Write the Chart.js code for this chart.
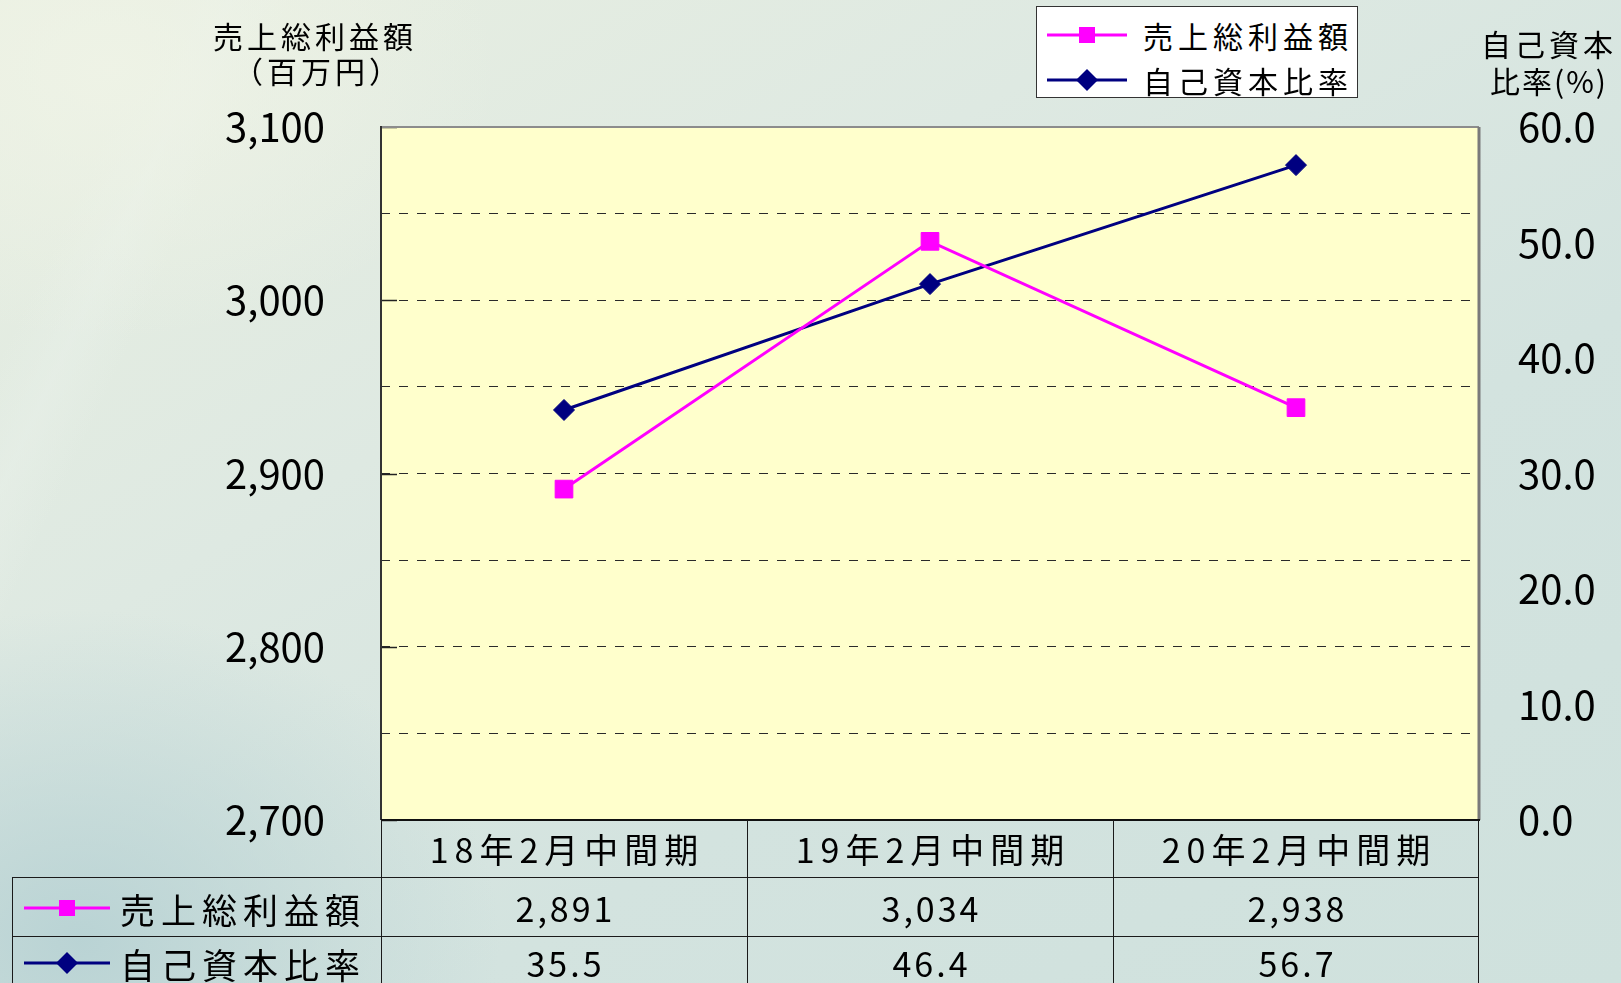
<!DOCTYPE html>
<html lang="ja">
<head>
<meta charset="utf-8">
<title>売上総利益額・自己資本比率</title>
<script src="https://cdn.jsdelivr.net/npm/chart.js@4.4.1/dist/chart.umd.min.js"></script>
<style>
  html, body { margin: 0; padding: 0; }
  body {
    width: 1621px; height: 983px; overflow: hidden; position: relative;
    font-family: "Noto Sans CJK JP", "Noto Sans", sans-serif; color: #000;
    background:
      radial-gradient(ellipse 520px 360px at 110px 70px, rgba(240,244,231,0.8), rgba(240,244,231,0) 75%),
      radial-gradient(ellipse 560px 440px at 80px 940px, rgba(182,209,211,0.9), rgba(182,209,211,0) 75%),
      linear-gradient(115deg, rgba(255,255,255,0) 8%, rgba(232,240,233,0.5) 11%, rgba(255,255,255,0) 14%),
      linear-gradient(150deg, #e9efe1 0%, #dee9e2 35%, #d3e3df 65%, #cfe1dd 100%);
  }
  #chart { position: absolute; left: 0; top: 0; }
  .txt { position: absolute; white-space: nowrap; line-height: 1; transform: translate(-50%, -50%); }
  .hl { position: absolute; height: 1px; background: #1a1a1a; }
  .vl { position: absolute; width: 1px; background: #1a1a1a; }
  #legend {
    position: absolute; left: 1036px; top: 6px; width: 320px; height: 90px;
    background: #fff; border: 1.5px solid #333;
  }
  .key { position: absolute; }
</style>
</head>
<body>
<canvas id="chart" width="1621" height="983"></canvas>
<div id="overlay"></div>
<div id="legend"></div>

<script>
// Data
const categories = ['18年2月中間期', '19年2月中間期', '20年2月中間期'];
const seriesNames = ['売上総利益額', '自己資本比率'];
const grossProfit = [2891, 3034, 2938];      // 百万円
const equityRatio = [35.5, 46.4, 56.7];      // %
const seriesColors = ['#ff00ff', '#000080'];
const seriesMarkers = ['rect', 'rectRot'];

// Axis ranges
const leftRange = [2700, 3100];
const leftGridStep = 50;
const leftLabelStep = 100;
const rightRange = [0, 60];
const rightStep = 10;

const axisTitleLeft = ['売上総利益額', '（百万円）'];
const axisTitleRight = ['自己資本', '比率(%)'];

const FONT = '"Noto Sans CJK JP", "Noto Sans", sans-serif';

// Plot background, frame and inner ticks on the left axis
const plotFrame = {
    id: 'plotFrame',
    beforeDraw(chart) {
        const { ctx, chartArea: a } = chart;
        ctx.save();
        ctx.fillStyle = '#ffffcc';
        ctx.fillRect(a.left, a.top, a.right - a.left, a.bottom - a.top);
        ctx.restore();
    },
    beforeDatasetsDraw(chart) {
        const { ctx, chartArea: a } = chart;
        const y = chart.scales.y;
        ctx.save();
        ctx.strokeStyle = '#222';
        ctx.lineWidth = 1.5;
        y.ticks.forEach(t => {
            if (t.value % leftLabelStep === 0) {
                const py = Math.round(y.getPixelForValue(t.value)) + 0.5;
                ctx.beginPath();
                ctx.moveTo(a.left, py);
                ctx.lineTo(a.left + 16, py);
                ctx.stroke();
            }
        });
        // top
        ctx.strokeStyle = '#8c8c8c';
        ctx.lineWidth = 2;
        ctx.beginPath(); ctx.moveTo(a.left, a.top); ctx.lineTo(a.right, a.top); ctx.stroke();
        // right
        ctx.strokeStyle = '#7a7a7a';
        ctx.lineWidth = 3;
        ctx.beginPath(); ctx.moveTo(a.right, a.top); ctx.lineTo(a.right, a.bottom); ctx.stroke();
        // left
        ctx.strokeStyle = '#333';
        ctx.lineWidth = 2;
        ctx.beginPath(); ctx.moveTo(a.left, a.top - 1); ctx.lineTo(a.left, a.bottom); ctx.stroke();
        // bottom
        ctx.strokeStyle = '#111';
        ctx.lineWidth = 2;
        ctx.beginPath(); ctx.moveTo(a.left, a.bottom); ctx.lineTo(a.right + 1, a.bottom); ctx.stroke();
        ctx.restore();
    }
};

const chart = new Chart(document.getElementById('chart'), {
    type: 'line',
    data: {
        labels: categories,
        datasets: [
            {
                label: seriesNames[0],
                data: grossProfit,
                yAxisID: 'y',
                borderColor: seriesColors[0],
                backgroundColor: seriesColors[0],
                borderWidth: 3,
                pointStyle: seriesMarkers[0],
                pointRadius: 12.5,
                pointBorderWidth: 1,
                tension: 0
            },
            {
                label: seriesNames[1],
                data: equityRatio,
                yAxisID: 'y2',
                borderColor: seriesColors[1],
                backgroundColor: seriesColors[1],
                borderWidth: 3,
                pointStyle: seriesMarkers[1],
                pointRadius: 10.5,
                pointBorderWidth: 1,
                tension: 0
            }
        ]
    },
    options: {
        responsive: false,
        animation: false,
        layout: { padding: { top: 127, bottom: 163, left: 0, right: 0 } },
        plugins: {
            legend: { display: false },
            tooltip: { enabled: false }
        },
        scales: {
            x: {
                type: 'category',
                display: false,
                offset: true,
                grid: { display: false }
            },
            y: {
                position: 'left',
                min: leftRange[0],
                max: leftRange[1],
                afterFit(scale) { scale.width = 381; },
                border: { display: false, dash: [9, 9] },
                grid: {
                    drawTicks: false,
                    lineWidth: 1,
                    color: c => (c.tick && (c.tick.value === leftRange[0] || c.tick.value === leftRange[1])) ? 'rgba(0,0,0,0)' : '#2a2a2a'
                },
                ticks: {
                    stepSize: leftGridStep,
                    padding: 56,
                    color: '#000',
                    font: { family: FONT, size: 40 },
                    callback: v => v % leftLabelStep === 0 ? v.toLocaleString('en-US') : ''
                }
            },
            y2: {
                position: 'right',
                min: rightRange[0],
                max: rightRange[1],
                afterFit(scale) { scale.width = 142; },
                border: { display: false },
                grid: { display: false, drawTicks: false },
                ticks: {
                    stepSize: rightStep,
                    padding: 39,
                    color: '#000',
                    font: { family: FONT, size: 40 },
                    callback: v => v.toFixed(1)
                }
            }
        }
    },
    plugins: [plotFrame]
});

// ---- HTML text: axis titles, legend, data table ----
const overlay = document.getElementById('overlay');

function addText(text, cx, cy, size, spacing) {
    const d = document.createElement('div');
    d.className = 'txt';
    d.textContent = text;
    d.style.left = cx + 'px';
    d.style.top = cy + 'px';
    d.style.fontSize = size + 'px';
    d.style.letterSpacing = spacing + 'px';
    d.style.paddingLeft = spacing + 'px';
    overlay.appendChild(d);
    return d;
}

function keySvg(i, w) {
    const c = seriesColors[i];
    const m = w / 2;
    const marker = seriesMarkers[i] === 'rect'
        ? `<rect x="${m - 8}" y="4" width="16" height="16" fill="${c}"/>`
        : `<polygon points="${m},1 ${m + 11},12 ${m},23 ${m - 11},12" fill="${c}"/>`;
    return `<svg width="${w}" height="24" viewBox="0 0 ${w} 24"><line x1="0" y1="12" x2="${w}" y2="12" stroke="${c}" stroke-width="3"/>${marker}</svg>`;
}

function hLine(x1, x2, y) {
    const d = document.createElement('div');
    d.className = 'hl';
    d.style.left = x1 + 'px'; d.style.top = y + 'px'; d.style.width = (x2 - x1) + 'px';
    overlay.appendChild(d);
}
function vLine(x, y1, y2) {
    const d = document.createElement('div');
    d.className = 'vl';
    d.style.left = x + 'px'; d.style.top = y1 + 'px'; d.style.height = (y2 - y1) + 'px';
    overlay.appendChild(d);
}

// axis titles
addText(axisTitleLeft[0], 313, 35, 30, 4);
addText(axisTitleLeft[1], 316, 70, 30, 4);
addText(axisTitleRight[0], 1547, 43, 30, 4);
addText(axisTitleRight[1], 1548, 80, 30, 2);

// legend
const legend = document.getElementById('legend');
seriesNames.forEach((name, i) => {
    const cy = 28 + i * 45;
    const k = document.createElement('div');
    k.className = 'key';
    k.style.left = '10px';
    k.style.top = (cy - 12) + 'px';
    k.innerHTML = keySvg(i, 80);
    legend.appendChild(k);
    const t = document.createElement('div');
    t.className = 'txt';
    t.style.transform = 'translate(0, -50%)';
    t.style.left = '106px';
    t.style.top = cy + 'px';
    t.style.fontSize = '30px';
    t.style.letterSpacing = '5px';
    t.textContent = name;
    legend.appendChild(t);
});

// data table under the plot, aligned to the x scale
const area = chart.chartArea;
const xs = chart.scales.x;
const colW = (area.right - area.left) / categories.length;
const rowTop = [area.bottom, 877, 936, 995];
const tableLeft = 12;

hLine(tableLeft, area.right, rowTop[1]);
hLine(tableLeft, area.right, rowTop[2]);
vLine(tableLeft, rowTop[1], 983);
for (let i = 0; i <= categories.length; i++) {
    vLine(Math.round(area.left + i * colW) - (i === categories.length ? 1 : 0), area.bottom, 983);
}

const rowValues = [
    grossProfit.map(v => v.toLocaleString('en-US')),
    equityRatio.map(v => v.toFixed(1))
];
const rowTextY = [908, 963];

categories.forEach((cat, i) => {
    const cx = xs.getPixelForValue(i);
    addText(cat, cx, 849, 34, 6);
    rowValues.forEach((vals, r) => {
        addText(vals[i], cx, rowTextY[r], 34, 3);
    });
});

seriesNames.forEach((name, r) => {
    const cy = rowTextY[r];
    const k = document.createElement('div');
    k.className = 'key';
    k.style.left = '24px';
    k.style.top = (cy - 12) + 'px';
    k.innerHTML = keySvg(r, 86);
    overlay.appendChild(k);
    const t = document.createElement('div');
    t.className = 'txt';
    t.style.transform = 'translate(0, -50%)';
    t.style.left = '120px';
    t.style.top = cy + 'px';
    t.style.fontSize = '35px';
    t.style.letterSpacing = '6px';
    t.textContent = name;
    overlay.appendChild(t);
});
</script>
</body>
</html>
